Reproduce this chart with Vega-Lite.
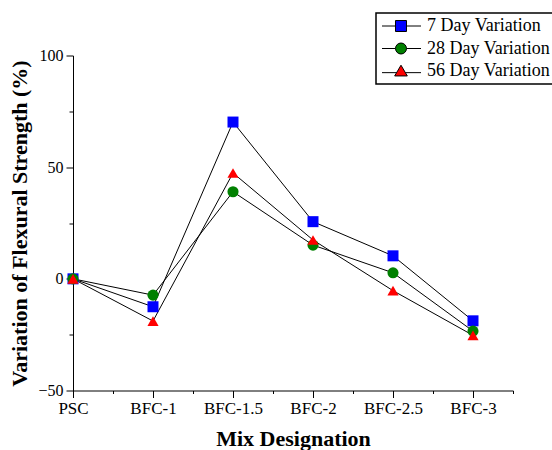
{
  "$schema": "https://vega.github.io/schema/vega-lite/v6.json",
  "autosize": {"type": "none"},
  "width": 440,
  "height": 335,
  "padding": {"left": 73, "top": 55.5, "right": 39, "bottom": 59.5},
  "background": "white",
  "config": {
    "font": "Liberation Serif",
    "view": {"stroke": null},
    "axis": {
      "domainColor": "black",
      "domainWidth": 1,
      "tickColor": "black",
      "tickWidth": 1,
      "labelColor": "black",
      "labelFont": "Liberation Serif",
      "labelFontSize": 16,
      "titleFont": "Liberation Serif",
      "titleFontSize": 22,
      "titleFontWeight": "bold",
      "titleColor": "black",
      "grid": false
    }
  },
  "data": {
    "values": [
      {"series": "7 Day Variation", "mix": "PSC", "idx": 0, "value": 0},
      {"series": "7 Day Variation", "mix": "BFC-1", "idx": 1, "value": -12.5},
      {"series": "7 Day Variation", "mix": "BFC-1.5", "idx": 2, "value": 70.2},
      {"series": "7 Day Variation", "mix": "BFC-2", "idx": 3, "value": 25.6},
      {"series": "7 Day Variation", "mix": "BFC-2.5", "idx": 4, "value": 10.3},
      {"series": "7 Day Variation", "mix": "BFC-3", "idx": 5, "value": -18.8},
      {"series": "28 Day Variation", "mix": "PSC", "idx": 0, "value": 0},
      {"series": "28 Day Variation", "mix": "BFC-1", "idx": 1, "value": -7.3},
      {"series": "28 Day Variation", "mix": "BFC-1.5", "idx": 2, "value": 39.0},
      {"series": "28 Day Variation", "mix": "BFC-2", "idx": 3, "value": 15.1},
      {"series": "28 Day Variation", "mix": "BFC-2.5", "idx": 4, "value": 2.7},
      {"series": "28 Day Variation", "mix": "BFC-3", "idx": 5, "value": -23.4},
      {"series": "56 Day Variation", "mix": "PSC", "idx": 0, "value": 0},
      {"series": "56 Day Variation", "mix": "BFC-1", "idx": 1, "value": -18.9},
      {"series": "56 Day Variation", "mix": "BFC-1.5", "idx": 2, "value": 47.4},
      {"series": "56 Day Variation", "mix": "BFC-2", "idx": 3, "value": 17.4},
      {"series": "56 Day Variation", "mix": "BFC-2.5", "idx": 4, "value": -5.3},
      {"series": "56 Day Variation", "mix": "BFC-3", "idx": 5, "value": -25.3}
    ]
  },
  "encoding": {
    "x": {
      "field": "idx",
      "type": "quantitative",
      "scale": {"domain": [0, 5.5], "nice": false, "zero": false},
      "axis": {
        "title": "Mix Designation",
        "values": [0, 0.5, 1, 1.5, 2, 2.5, 3, 3.5, 4, 4.5, 5, 5.5],
        "labelExpr": "datum.value % 1 === 0 ? ['PSC','BFC-1','BFC-1.5','BFC-2','BFC-2.5','BFC-3'][datum.value] : ''",
        "tickSize": {"condition": {"test": "datum.value % 1 !== 0", "value": 3}, "value": 7},
        "labelFontSize": 17,
        "labelPadding": 3,
        "titlePadding": 12,
        "labelFlush": false,
        "labelOverlap": false
      }
    },
    "y": {
      "field": "value",
      "type": "quantitative",
      "scale": {"domain": [-50, 100], "nice": false, "zero": false},
      "axis": {
        "title": "Variation of  Flexural Strength (%)",
        "values": [-50, -25, 0, 25, 50, 75, 100],
        "labelExpr": "datum.value % 50 === 0 ? datum.label : ''",
        "tickSize": {"condition": {"test": "datum.value % 50 !== 0", "value": 4}, "value": 7},
        "labelPadding": 3,
        "titlePadding": 6,
        "labelFlush": false,
        "labelOverlap": false
      }
    }
  },
  "layer": [
    {
      "mark": {"type": "line", "color": "black", "strokeWidth": 1},
      "encoding": {
        "detail": {"field": "series", "type": "nominal"}
      }
    },
    {
      "mark": {"type": "point", "filled": true, "opacity": 1},
      "encoding": {
        "color": {
          "field": "series",
          "type": "nominal",
          "sort": ["7 Day Variation", "28 Day Variation", "56 Day Variation"],
          "scale": {"range": ["#0000FF", "#008000", "#FF0000"]},
          "legend": {
            "title": null,
            "orient": "none",
            "legendX": 303,
            "legendY": -42.5,
            "padding": 4,
            "rowPadding": 4.5,
            "symbolSize": 121,
            "symbolOpacity": 1,
            "labelFont": "Liberation Serif",
            "labelFontSize": 18,
            "labelColor": "black",
            "labelOffset": 29,
            "labelLimit": 300,
            "strokeColor": "black",
            "encode": {
              "legend": {"update": {"strokeWidth": {"value": 1.5}}},
              "symbols": {
                "update": {
                  "shape": {"signal": "datum.index === 0 ? 'M-1.27,0H1.18M3.18,0H5.82M1.18,-1H3.18V1H1.18Z' : datum.index === 1 ? 'M-1.27,0H1.18M3.18,0H5.82M3.18,0A1,1,0,1,1,1.18,0A1,1,0,1,1,3.18,0Z' : 'M-1.27,0.3H1.38M2.98,0.3H5.82M2.18,-1.05L3.33,0.9H1.03Z'"},
                  "stroke": {"value": "black"},
                  "strokeWidth": {"value": 1}
                }
              }
            }
          }
        },
        "shape": {
          "field": "series",
          "type": "nominal",
          "sort": ["7 Day Variation", "28 Day Variation", "56 Day Variation"],
          "scale": {"range": ["square", "circle", "triangle-up"]},
          "legend": null
        },
        "size": {
          "field": "series",
          "type": "nominal",
          "sort": ["7 Day Variation", "28 Day Variation", "56 Day Variation"],
          "scale": {"range": [121, 125, 175]},
          "legend": null
        }
      }
    }
  ]
}
